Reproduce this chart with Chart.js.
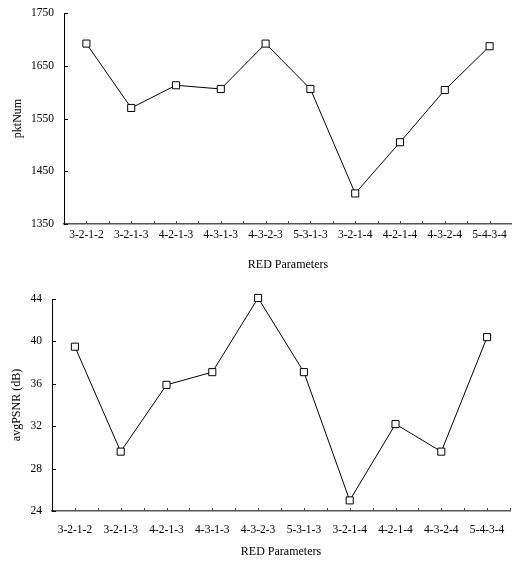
<!DOCTYPE html>
<html>
<head>
<meta charset="utf-8">
<script src="https://cdn.jsdelivr.net/npm/chart.js@4/dist/chart.umd.min.js"></script>
<style>
  html, body { margin: 0; padding: 0; background: #fff; overflow: hidden; }
  .frame { width: 512px; overflow: hidden; }
  .box { position: relative; }
</style>
</head>
<body>
<div class="frame"><div class="box" style="width:518px;height:280px"><canvas id="pktChart"></canvas></div></div>
<div class="frame"><div class="box" style="width:516px;height:281px"><canvas id="psnrChart"></canvas></div></div>
<script>
const params = ['3-2-1-2', '3-2-1-3', '4-2-1-3', '4-3-1-3', '4-3-2-3', '5-3-1-3', '3-2-1-4', '4-2-1-4', '4-3-2-4', '5-4-3-4'];
const pktNum = [1692, 1570, 1613, 1606, 1692, 1606, 1408, 1505, 1604, 1687];
const avgPsnr = [39.5, 29.6, 35.9, 37.1, 44.1, 37.1, 25.0, 32.2, 29.6, 40.4];
const pktTicks = [1350, 1450, 1550, 1650, 1750];
const psnrTicks = [24, 28, 32, 36, 40, 44];

Chart.defaults.font.family = "'Liberation Serif', 'Times New Roman', serif";
Chart.defaults.color = '#000';

// short tick marks drawn inside the plot, at every y tick and every half category
const innerTicks = {
  id: 'innerTicks',
  afterDraw(chart) {
    const { ctx, scales: { x, y } } = chart;
    ctx.save();
    ctx.lineWidth = 1;
    ctx.strokeStyle = '#000';
    ctx.beginPath();
    y.ticks.forEach(t => {
      const py = Math.round(y.getPixelForValue(t.value)) + 0.5;
      ctx.moveTo(x.left, py);
      ctx.lineTo(x.left + 4, py);
    });
    ctx.stroke();
    ctx.strokeStyle = '#444';
    ctx.beginPath();
    const half = (x.getPixelForValue(1) - x.getPixelForValue(0)) / 2;
    for (let i = 0; i < params.length; i++) {
      const c = x.getPixelForValue(i);
      [c, c + half].forEach(px => {
        const p = Math.round(px) + 0.5;
        ctx.moveTo(p, y.bottom);
        ctx.lineTo(p, y.bottom - 3);
      });
    }
    ctx.stroke();
    ctx.restore();
  }
};

function makeChart(id, values, ticks, yTitle, opts) {
  return new Chart(document.getElementById(id), {
    type: 'line',
    data: {
      labels: params,
      datasets: [{
        data: values,
        clip: false,
        borderColor: '#000',
        borderWidth: 1,
        pointStyle: 'rect',
        pointRadius: 5,
        pointBorderWidth: 1,
        pointBackgroundColor: '#fff',
        pointBorderColor: '#000',
        tension: 0
      }]
    },
    options: {
      responsive: true,
      maintainAspectRatio: false,
      animation: false,
      layout: { padding: { top: opts.top, left: 0, right: 0, bottom: 0 } },
      plugins: { legend: { display: false }, tooltip: { enabled: false } },
      scales: {
        x: {
          offset: true,
          grid: { display: false, drawTicks: false },
          border: { color: '#555', width: 1.5 },
          ticks: { padding: opts.xPad, maxRotation: 0, autoSkip: false, font: { size: 11.5 } },
          title: { display: true, text: 'RED Parameters', font: { size: 12 }, padding: { top: 0, bottom: opts.titleBottom } },
          afterFit: s => { s.height = opts.xHeight; s.paddingLeft = 0; s.paddingRight = 0; }
        },
        y: {
          min: ticks[0],
          max: ticks[ticks.length - 1],
          afterBuildTicks: s => { s.ticks = ticks.map(v => ({ value: v })); },
          grid: { display: false, drawTicks: false },
          border: { color: '#000', width: 1 },
          ticks: { padding: 10, font: { size: 11.5 }, callback: v => String(v) },
          title: { display: true, text: yTitle, font: { size: 12 }, padding: { top: opts.titleLeft, bottom: 0 } },
          afterFit: s => { s.width = opts.yWidth; s.paddingTop = 0; s.paddingBottom = 0; }
        }
      }
    },
    plugins: [innerTicks]
  });
}

makeChart('pktChart', pktNum, pktTicks, 'pktNum',
  { top: 13, xHeight: 56, xPad: 4, titleBottom: 8, yWidth: 64, titleLeft: 11 });
makeChart('psnrChart', avgPsnr, psnrTicks, 'avgPSNR (dB)',
  { top: 19, xHeight: 50, xPad: 12, titleBottom: 2, yWidth: 52, titleLeft: 10 });
</script>
</body>
</html>
